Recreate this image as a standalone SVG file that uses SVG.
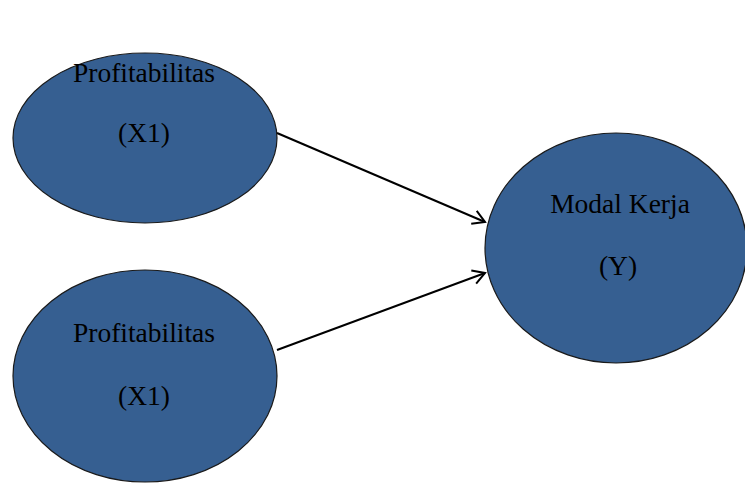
<svg xmlns="http://www.w3.org/2000/svg" width="745" height="483" viewBox="0 0 745 483">
<style>
.node{fill:#365F91;stroke:#1a1a1a;stroke-width:1.2}
.lbl{font-family:"Liberation Serif","Times New Roman",serif;font-size:27.5px;fill:#000;text-anchor:middle}
.conn{stroke:#000;stroke-width:2;fill:none}
</style>
<defs>
<marker id="arr" markerWidth="16" markerHeight="16" refX="13" refY="8" orient="auto" markerUnits="userSpaceOnUse">
<path d="M1,1 L13,8 L1,15" fill="none" stroke="#000" stroke-width="2"/>
</marker>
</defs>
<g id="x1-top">
<ellipse class="node" cx="145" cy="138" rx="132" ry="85"/>
<text class="lbl" x="144" y="82">Profitabilitas</text>
<text class="lbl" x="144" y="142">(X1)</text>
</g>
<g id="x1-bottom">
<ellipse class="node" cx="145" cy="376" rx="132" ry="106"/>
<text class="lbl" x="144" y="342">Profitabilitas</text>
<text class="lbl" x="144" y="405">(X1)</text>
</g>
<g id="y">
<ellipse class="node" cx="616" cy="248" rx="131" ry="115"/>
<text class="lbl" x="620" y="213">Modal Kerja</text>
<text class="lbl" x="618" y="275">(Y)</text>
</g>
<g id="connectors">
<line class="conn" x1="277" y1="133" x2="485" y2="222" marker-end="url(#arr)"/>
<line class="conn" x1="277" y1="350" x2="485" y2="273" marker-end="url(#arr)"/>
</g>
</svg>
